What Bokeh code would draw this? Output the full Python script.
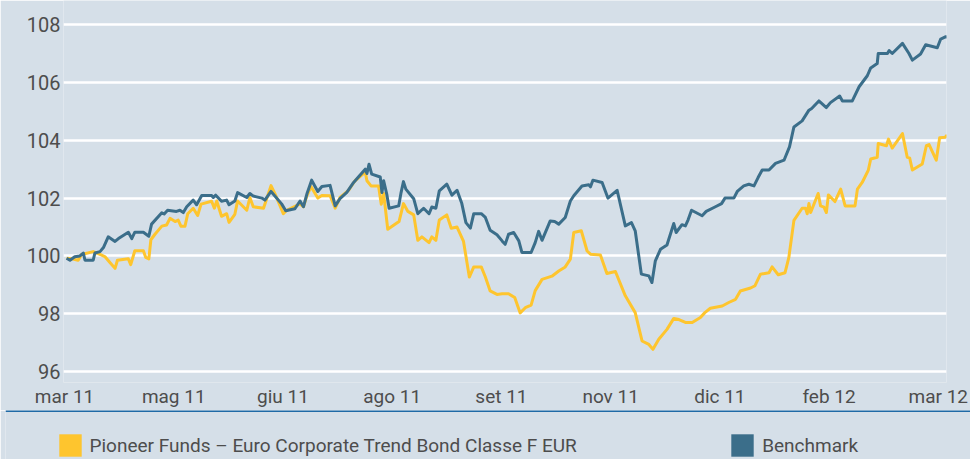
from bokeh.plotting import figure
from bokeh.models import Range1d, FixedTicker, Legend, LegendItem, Span
from bokeh.layouts import column, row
from bokeh.embed import file_html
from bokeh.resources import INLINE

# ---------------- data ----------------
tick_pos = [0, 32, 64, 96, 128, 160, 192, 224, 256]
tick_labels = ["mar 11", "mag 11", "giu 11", "ago 11", "set 11",
               "nov 11", "dic 11", "feb 12", "mar 12"]
y_ticks = [96, 98, 100, 102, 104, 106, 108]

fund_name = "Pioneer Funds \u2013 Euro Corporate Trend Bond Classe F EUR"
bench_name = "Benchmark"

fund_x = [0.6, 2.1, 4.0, 5.0, 8.4, 10.4, 11.8, 13.3, 14.8, 15.5,
          18.7, 19.4, 20.6, 23.1, 23.8, 24.7, 25.3, 26.5, 28.5, 29.9,
          30.9, 32.4, 33.3, 34.1, 35.3, 36.1, 37.7, 39.0, 40.0, 43.1,
          43.9, 44.6, 46.0, 47.5, 48.2, 49.9, 50.7, 53.4, 54.3, 55.3,
          58.3, 60.5, 61.7, 64.1, 65.1, 69.0, 70.0, 71.0, 72.2, 74.2,
          75.4,
          77.8, 79.3, 80.7, 83.2, 85.1, 88.1, 88.6, 89.8, 92.0, 92.8,
          93.5, 94.7, 98.0, 99.3, 100.6, 102.3, 103.5, 104.7, 106.8, 107.6,
          108.8, 109.8, 112.0, 113.3, 115.0, 116.9, 118.6, 119.9, 122.1, 123.3,
          124.7, 126.7, 128.2, 130.1, 131.9, 133.5, 135.0, 136.7, 137.9, 139.9,
          142.8, 144.8, 146.7, 148.2, 149.2, 151.4,
          153.1, 154.1, 157.0, 158.9, 161.4, 164.3, 167.2, 169.2, 171.2, 172.4,
          174.1, 176.5, 178.5, 180.0, 181.9, 183.9, 186.3, 187.6, 189.2, 192.7,
          194.6, 196.6, 198.0, 201.0, 202.3, 203.9,
          206.4, 207.3, 209.1, 211.1, 212.2, 213.7, 216.1, 217.1, 217.6, 218.1,
          218.6, 220.8, 221.5, 222.5, 223.2, 223.8, 225.7, 227.4, 228.7, 231.6,
          232.3, 233.7, 235.5, 236.2, 238.1, 238.4, 240.8, 241.4, 242.5, 245.5,
          246.9, 247.6, 248.4, 251.3, 252.5, 253.3, 255.4, 256.4, 258.0, 258.6]
fund_y = [99.92, 99.9, 99.85, 100.05, 100.15, 100.05, 99.98, 99.77, 99.57, 99.85,
          99.9, 99.7, 100.18, 100.18, 99.95, 99.9, 100.56, 100.75, 101.03, 101.07,
          101.3, 101.19, 101.24, 101.03, 101.03, 101.46, 101.65, 101.4, 101.79, 101.89,
          101.65, 101.9, 101.37, 101.46, 101.16, 101.44, 101.9, 101.58, 102.02, 101.7,
          101.65, 102.43, 102.14, 101.46, 101.58, 101.8, 101.7, 102.08, 102.4, 102.0,
          102.09,
          102.08, 101.65, 102.02, 102.27, 102.6, 102.9, 102.6, 102.42, 102.42, 101.79,
          102.16, 100.92, 101.19, 101.81, 101.54, 101.42, 100.54, 100.66, 100.46, 100.66,
          100.54, 101.24, 101.42, 100.96, 101.0, 100.5, 99.27, 99.62, 99.62, 99.27,
          98.79, 98.67, 98.69, 98.69, 98.56, 98.03, 98.21, 98.3, 98.8, 99.19,
          99.3, 99.48, 99.62, 99.89, 100.81, 100.87,
          100.17, 100.06, 100.03, 99.39, 99.46, 98.62, 98.04, 97.06, 96.94, 96.77,
          97.12, 97.46, 97.84, 97.8, 97.7, 97.7, 97.87, 98.04, 98.19, 98.27,
          98.39, 98.5, 98.79, 98.89, 98.97, 99.37,
          99.42, 99.62, 99.35, 99.42, 99.94, 101.23, 101.65, 101.65, 101.46, 101.81,
          101.5, 102.16, 101.73, 101.69, 101.5, 102.11, 101.88, 102.31, 101.73, 101.73,
          102.31, 102.54, 102.97, 103.35, 103.41, 103.89, 103.81, 104.04, 103.73, 104.23,
          103.41, 103.39, 102.97, 103.18, 103.81, 103.85, 103.31, 104.09, 104.1, 104.18]

bench_x = [0.6, 1.6, 3.0, 4.5, 5.5, 6.0, 8.4, 8.9, 10.4, 11.4,
           12.8, 14.8, 15.8, 18.7, 19.7, 20.6, 23.1, 24.7, 25.5, 28.5,
           29.2, 30.2, 32.8, 33.8, 34.8, 35.8, 37.7, 38.7, 40.2, 43.1,
           43.6, 44.3, 46.0, 47.5, 48.2, 49.9, 50.7, 53.4, 54.3, 55.3,
           57.8, 58.7, 60.5, 63.6, 64.8, 67.5, 69.0, 70.0, 71.0, 72.4,
           74.2, 75.4,
           77.8, 79.3, 80.7, 82.7, 84.7, 86.1, 88.1, 88.6, 89.2, 90.0,
           92.5, 93.0, 93.5, 94.4, 95.1, 97.9, 98.6, 99.3, 100.0, 102.3,
           103.5, 105.2, 106.8, 107.6, 108.8, 109.8, 112.0, 113.5, 115.0, 116.4,
           117.6, 118.9, 119.9, 122.1, 123.3, 124.7, 126.7, 128.2, 129.1, 130.1,
           131.6, 133.1, 134.0, 136.7, 137.9, 138.9, 139.9, 142.3, 143.6, 144.8,
           146.7, 148.2, 149.2,
           151.6, 153.6, 154.1, 154.8, 157.5, 159.2, 161.9, 164.3, 166.1, 167.2,
           169.0, 171.2, 172.1, 173.1, 174.6, 176.5, 178.5, 179.2, 180.9, 181.9,
           182.7, 183.7, 186.8, 188.0, 190.7, 192.5, 193.5, 196.1, 197.1, 199.0,
           200.5, 202.0, 203.2,
           204.4, 206.4, 208.3, 210.8, 212.4, 213.7, 216.1, 218.1, 218.9, 221.0,
           223.2, 224.4, 227.1, 227.9, 230.8, 232.8, 235.2, 236.2, 238.1, 238.4,
           241.1, 241.6, 242.5, 245.5, 247.4, 248.4, 250.8, 252.3, 255.7, 256.7,
           258.2, 258.6]
bench_y = [99.92, 99.85, 99.97, 100.0, 100.1, 99.85, 99.85, 100.1, 100.15, 100.29,
           100.66, 100.5, 100.6, 100.82, 100.6, 100.82, 100.82, 100.68, 101.1, 101.49,
           101.45, 101.58, 101.54, 101.58, 101.5, 101.7, 101.93, 101.77, 102.09, 102.09,
           102.02, 102.1, 101.89, 101.93, 101.77, 101.9, 102.19, 102.02, 102.16, 102.07,
           102.0, 101.93, 102.23, 101.8, 101.56, 101.63, 101.9, 101.7, 102.14, 102.62,
           102.23, 102.4,
           102.44, 101.73, 101.98, 102.2, 102.54, 102.73, 103.0, 102.85, 103.17, 102.83,
           102.73, 102.19, 102.6, 102.14, 101.65, 101.73, 102.19, 102.57, 102.31, 101.98,
           101.46, 101.65, 101.46, 101.69, 101.65, 102.25, 102.48, 102.1, 102.27, 101.81,
           101.15, 100.96, 101.46, 101.46, 101.33, 100.89, 100.73, 100.52, 100.4, 100.75,
           100.81, 100.52, 100.12, 100.12, 100.46, 100.85, 100.54, 101.21, 101.19, 101.1,
           101.33, 101.9, 102.08,
           102.42, 102.46, 102.39, 102.62, 102.54, 102.0, 102.27, 101.04, 101.15, 100.87,
           99.37, 99.31, 99.08, 99.83, 100.23, 100.38, 101.12, 100.81, 101.08, 101.04,
           101.25, 101.58, 101.39, 101.54, 101.7, 101.81, 102.0, 102.0, 102.23, 102.42,
           102.48, 102.42, 102.71,
           102.97, 102.97, 103.2, 103.31, 103.77, 104.46, 104.67, 105.04, 105.1, 105.36,
           105.13, 105.3, 105.53, 105.36, 105.36, 105.85, 106.23, 106.5, 106.65, 107.0,
           107.0, 107.1, 107.0, 107.35, 107.0, 106.77, 106.98, 107.3, 107.2, 107.5,
           107.58, 107.56]

# ---------------- style ----------------
BG = "#d5dfe8"
FUND_COLOR = "#fec52e"
BENCH_COLOR = "#3b6e8a"
RULE_COLOR = "#1f6aa6"
TEXT_COLOR = "#4d4d4d"
FONT = "Roboto"

p = figure(width=970, height=410,
           x_range=Range1d(-0.3, 258.4), y_range=Range1d(95.624, 108.832),
           output_backend="svg", toolbar_location=None,
           min_border_left=63, min_border_right=24, min_border_top=0,
           min_border_bottom=25,
           background_fill_color=BG, border_fill_color=BG,
           outline_line_color=None)

p.xaxis.ticker = FixedTicker(ticks=tick_pos)
p.xaxis.major_label_overrides = {t: l for t, l in zip(tick_pos, tick_labels)}
p.yaxis.ticker = FixedTicker(ticks=y_ticks)

for ax in (p.xaxis, p.yaxis):
    ax.axis_line_color = None
    ax.major_tick_line_color = None
    ax.minor_tick_line_color = None
    ax.major_tick_out = 0
    ax.major_tick_in = 0
    ax.minor_tick_out = 0
    ax.minor_tick_in = 0
    ax.major_label_text_font = FONT
    ax.major_label_text_color = TEXT_COLOR
p.xaxis.major_label_text_font_size = "19px"
p.yaxis.major_label_text_font_size = "20px"
p.xaxis.major_label_standoff = 2
p.yaxis.major_label_standoff = 3

p.xgrid.visible = False
p.ygrid.grid_line_color = "white"
p.ygrid.grid_line_width = 2.5

p.line(fund_x, fund_y, line_color=FUND_COLOR, line_width=3, line_join="round")
p.line(bench_x, bench_y, line_color=BENCH_COLOR, line_width=3, line_join="round")

# ---------------- legend strip ----------------
p2 = figure(width=970, height=49,
            x_range=Range1d(0, 965), y_range=Range1d(0, 49),
            output_backend="svg", toolbar_location=None,
            min_border_left=5, min_border_right=0, min_border_top=0,
            min_border_bottom=0,
            x_axis_location=None, y_axis_location=None,
            background_fill_color=BG, border_fill_color=BG,
            outline_line_color=None)
p2.grid.visible = False
p2.add_layout(Span(location=48.5, dimension="width",
                   line_color=RULE_COLOR, line_width=2))

nan = float("nan")
r1 = p2.quad(left=[nan], right=[nan], top=[nan], bottom=[nan],
             fill_color=FUND_COLOR, line_color=None)
r2 = p2.quad(left=[nan], right=[nan], top=[nan], bottom=[nan],
             fill_color=BENCH_COLOR, line_color=None)


def make_legend(label, rend, loc):
    return Legend(items=[LegendItem(label=label, renderers=[rend])],
                  location=loc, glyph_width=28, glyph_height=28,
                  label_standoff=6, padding=0, margin=0,
                  border_line_color=None, background_fill_alpha=0,
                  label_text_font=FONT, label_text_font_size="19px",
                  label_text_color=TEXT_COLOR, label_height=28)


p2.add_layout(make_legend(fund_name, r1, (50.5, 0)))
p2.add_layout(make_legend(bench_name, r2, (723.2, 0)))

layout = column(p, row(p2), spacing=0)
open("out.html", "w").write(file_html(layout, INLINE))
